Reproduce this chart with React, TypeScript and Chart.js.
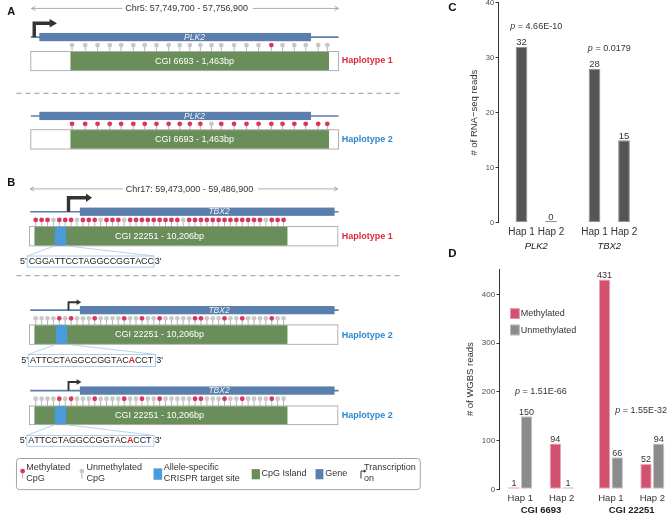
import React, { useEffect, useRef } from "react";
import { Chart, registerables } from "chart.js";

Chart.register(...registerables);

const FONT = '"Liberation Sans", Arial, Helvetica, sans-serif';

// ---------------- Panels A/B: CpG methylation states (M = methylated, U = unmethylated)
const plk2Hap1CpG = "UUUUUUUUUUUUUUUUUMUUUUU".split("");
const plk2Hap2CpG = "MMMMMMMMMMMMUMMMMMMMMMM".split("");
const tbx2Hap1CpG = "MMMUMMMUMMMUMMMUMMMMMMMMMUMMMMMMMMMMMMMUMMM".split("");
const tbx2Hap2CpG = "UUUUMUMUUUMUUUUMUUMUUMUUUUUMMUUUMUUMUUUUMUU".split("");
const hap1Seq = "CGGATTCCTAGGCCGGTACC";
const hap2Seq = "ATTCCTAGGCCGGTACACCT";
const hap2SnpIndex = 16;

// ---------------- Panel C: RNA-seq reads
const rnaHaps = ["Hap 1", "Hap 2"];
const rnaGenes = ["PLK2", "TBX2"];
const rnaReads = [32, 0, 28, 15];
const rnaPValues = ["4.66E-10", "0.0179"];
const rnaTicks = [0, 10, 20, 30, 40];

// ---------------- Panel D: WGBS reads
const wgbsHaps = ["Hap 1", "Hap 2"];
const wgbsRegions = ["CGI 6693", "CGI 22251"];
const wgbsMethylated = [1, 94, 431, 52];
const wgbsUnmethylated = [150, 1, 66, 94];
const wgbsPValues = ["1.51E-66", "1.55E-32"];
const wgbsTicks = [0, 100, 200, 300, 400];

// ---------------- layout (not data)
const A_CPG_X = [69.3, 82.7, 95.3, 107.7, 119.3, 131.7, 143.3, 155.3, 167.7, 179, 189.3, 200, 211.3, 221.3, 234.3, 247, 259.3, 272.3, 283.7, 295.7, 307.3, 320, 329.3];
const B_CPG_X0 = 32.3;
const B_CPG_STEP = 6.01;

const METH = "#d6385f";
const UNMETH = "#c8c8c8";
const GENE = "#5b7fad";
const CGI_GREEN = "#6a8e59";
const CRISPR = "#4b9ad9";
const SEQ_LINE = "#a5c8ea";
const HAP1_RED = "#dc2a40";
const HAP2_BLUE = "#2d87cc";

const TRACKS = [
  { states: plk2Hap1CpG, xs: A_CPG_X, dotY: 41.7, boxTop: 48.3 },
  { states: plk2Hap2CpG, xs: A_CPG_X, dotY: 121.7, boxTop: 127.7 },
  { states: tbx2Hap1CpG, xs: null, dotY: 219.3, boxTop: 226 },
  { states: tbx2Hap2CpG, xs: null, dotY: 319.3, boxTop: 326 },
  { states: tbx2Hap2CpG, xs: null, dotY: 401, boxTop: 408.3 },
];

function cpgPoints(state: string) {
  const pts: any[] = [];
  TRACKS.forEach((t) => {
    t.states.forEach((s, i) => {
      if (s !== state) return;
      const x = t.xs ? t.xs[i] : B_CPG_X0 + i * B_CPG_STEP;
      pts.push({ x, y: t.dotY, base: t.boxTop });
    });
  });
  return pts;
}

const diagramPlugin = {
  id: "diagram",
  beforeDatasetsDraw(chart: any) {
    const ctx = chart.ctx;
    const X = (v: number) => chart.scales.x.getPixelForValue(v);
    const Y = (v: number) => chart.scales.y.getPixelForValue(v);
    ctx.save();
    const font = (size: number, weight = "normal", style = "normal") => `${style} ${weight} ${size}px ${FONT}`;
    const text = (s: string, x: number, y: number, o: any = {}) => {
      ctx.font = font(o.size || 9, o.weight, o.style);
      ctx.fillStyle = o.color || "#333";
      ctx.textAlign = o.align || "left";
      ctx.textBaseline = "middle";
      ctx.fillText(s, X(x), Y(y));
    };
    const rect = (x0: number, y0: number, x1: number, y1: number, fill?: string, stroke?: string, lw = 0.8) => {
      if (fill) { ctx.fillStyle = fill; ctx.fillRect(X(x0), Y(y0), X(x1) - X(x0), Y(y1) - Y(y0)); }
      if (stroke) { ctx.strokeStyle = stroke; ctx.lineWidth = lw; ctx.strokeRect(X(x0), Y(y0), X(x1) - X(x0), Y(y1) - Y(y0)); }
    };
    const line = (pts: number[][], color: string, lw: number, dash: number[] = []) => {
      ctx.beginPath();
      ctx.setLineDash(dash);
      pts.forEach((p, i) => (i ? ctx.lineTo(X(p[0]), Y(p[1])) : ctx.moveTo(X(p[0]), Y(p[1]))));
      ctx.strokeStyle = color; ctx.lineWidth = lw; ctx.stroke();
      ctx.setLineDash([]);
    };
    const chrom = (label: string, cx: number, y: number, x0: number, x1: number) => {
      ctx.font = font(9);
      const w = ctx.measureText(label).width;
      line([[x0, y], [cx - w / 2 - 4, y]], "#999", 0.8);
      line([[cx + w / 2 + 6, y], [x1, y]], "#999", 0.8);
      line([[x0 + 4, y - 2.2], [x0, y], [x0 + 4, y + 2.2]], "#999", 0.8);
      line([[x1 - 4, y - 2.2], [x1, y], [x1 - 4, y + 2.2]], "#999", 0.8);
      text(label, cx, y + 0.5, { align: "center", color: "#333" });
    };
    const gene = (y: number, lx0: number, lx1: number, bx0: number, bx1: number, name: string, cx: number) => {
      line([[lx0, y], [lx1, y]], GENE, 1.6);
      rect(bx0, y - 4.2, bx1, y + 4.2, GENE);
      text(name, cx, y + 0.3, { align: "center", color: "#eef2f8", style: "italic", size: 8.5 });
    };
    const tss = (x: number, base: number, top: number, end: number, tip: number, lw: number, head: number) => {
      ctx.lineJoin = "miter";
      line([[x, base], [x, top], [end, top]], "#333", lw);
      ctx.beginPath();
      ctx.moveTo(X(end - 0.5), Y(top - head));
      ctx.lineTo(X(tip), Y(top));
      ctx.lineTo(X(end - 0.5), Y(top + head));
      ctx.closePath();
      ctx.fillStyle = "#333"; ctx.fill();
    };
    const cgi = (y0: number, y1: number, ox0: number, ox1: number, gx0: number, gx1: number, label: string, cx: number, crispr?: number[]) => {
      rect(ox0, y0, ox1, y1, "#fff", "#a8a8a8", 0.9);
      rect(gx0, y0 + 0.4, gx1, y1 - 0.4, CGI_GREEN);
      if (crispr) rect(crispr[0], y0 + 0.4, crispr[1], y1 - 0.4, CRISPR);
      text(label, cx, (y0 + y1) / 2 + 0.3, { align: "center", color: "#fff", size: 9 });
    };
    const seqBox = (cr: number[], crBottom: number, bx0: number, bx1: number, by0: number, by1: number, seq: string, red: number) => {
      line([[cr[0], crBottom], [bx0, by0]], SEQ_LINE, 0.8);
      line([[cr[1], crBottom], [bx1, by0]], SEQ_LINE, 0.8);
      rect(bx0, by0, bx1, by1, undefined, SEQ_LINE, 0.9);
      const cy = (by0 + by1) / 2;
      text("5'", bx0 - 0.5, cy, { align: "right", color: "#222" });
      text("3'", bx1 + 0.8, cy, { color: "#222" });
      let x = bx0 + 1.4;
      seq.split("").forEach((ch, i) => {
        const isRed = i === red;
        ctx.font = font(9, isRed ? "bold" : "normal");
        ctx.fillStyle = isRed ? "#e8202a" : "#222";
        ctx.textAlign = "left";
        ctx.textBaseline = "middle";
        ctx.fillText(ch, X(x), Y(cy));
        x += ctx.measureText(ch).width;
      });
    };

    // panel letters
    text("A", 3.3, 8, { weight: "bold", size: 11, color: "#111" });
    text("B", 3.3, 182, { weight: "bold", size: 11, color: "#111" });

    // ---- Panel A
    chrom("Chr5: 57,749,700 - 57,756,900", 186, 4.5, 28, 340.7);
    gene(33.6, 27.3, 340.7, 36, 312.7, "PLK2", 194);
    tss(30.8, 33.6, 19.5, 47, 54, 3.4, 4.3);
    cgi(48.3, 67.7, 27.3, 340.7, 67.7, 331, "CGI 6693 - 1,463bp", 194);
    text("Haplotype 1", 344, 57.5, { weight: "bold", color: HAP1_RED });
    line([[12.7, 90.7], [407, 90.7]], "#8a8a8a", 0.9, [5, 4]);
    gene(113.7, 27.3, 340.7, 36, 312.7, "PLK2", 194);
    cgi(127.7, 147.3, 27.3, 340.7, 67.7, 331, "CGI 6693 - 1,463bp", 194);
    text("Haplotype 2", 344, 137.7, { weight: "bold", color: HAP2_BLUE });

    // ---- Panel B
    chrom("Chr17: 59,473,000 - 59,486,900", 189, 187.8, 26.7, 340);
    gene(211, 26.7, 340.7, 77.3, 336.7, "TBX2", 219);
    tss(65.7, 211, 196.8, 84, 89.7, 3.4, 4.3);
    cgi(226, 245.7, 26, 340, 31, 288.7, "CGI 22251 - 10,206bp", 158.3, [51.7, 63.3]);
    text("Haplotype 1", 344, 236, { weight: "bold", color: HAP1_RED });
    seqBox([51.7, 63.3], 245.7, 23.7, 152.7, 256, 267.3, hap1Seq, -1);
    line([[12.7, 276], [407, 276]], "#8a8a8a", 0.9, [5, 4]);

    gene(311, 26.7, 340.7, 77.3, 336.7, "TBX2", 219);
    tss(65.7, 311, 303, 74.5, 78.7, 1.9, 2.8);
    cgi(326, 345.7, 26, 340, 31, 288.7, "CGI 22251 - 10,206bp", 158.3, [52.7, 64.3]);
    text("Haplotype 2", 344, 336.5, { weight: "bold", color: HAP2_BLUE });
    seqBox([52.7, 64.3], 345.7, 25, 154.3, 356, 368.3, hap2Seq, hap2SnpIndex);

    gene(392.7, 26.7, 340.7, 77.3, 336.7, "TBX2", 219);
    tss(65.7, 392.7, 384, 74.5, 79, 1.9, 2.8);
    cgi(408.3, 427.3, 26, 340, 31, 288.7, "CGI 22251 - 10,206bp", 158.3, [51.7, 63.3]);
    text("Haplotype 2", 344, 418.3, { weight: "bold", color: HAP2_BLUE });
    seqBox([51.7, 63.3], 427.3, 23.3, 152.7, 438.3, 449.3, hap2Seq, hap2SnpIndex);

    // ---- legend
    ctx.beginPath();
    ctx.roundRect(X(12.7), Y(461.7), X(424) - X(12.7), Y(493.3) - Y(461.7), 3);
    ctx.strokeStyle = "#9a9a9a"; ctx.lineWidth = 0.9; ctx.stroke();
    const lolli = (x: number, color: string) => {
      line([[x, 474.5], [x, 482]], "#a0a0a0", 0.8);
      ctx.beginPath(); ctx.arc(X(x), Y(474.5), 2.4, 0, Math.PI * 2); ctx.fillStyle = color; ctx.fill();
    };
    lolli(19, METH);
    text("Methylated", 22.7, 470.8);
    text("CpG", 22.7, 482.3);
    lolli(79.3, UNMETH);
    text("Unmethylated", 84, 470.8);
    text("CpG", 84, 482.3);
    rect(152.3, 471.7, 161, 483.3, CRISPR);
    text("Allele-specific", 162.7, 470.8);
    text("CRISPR target site", 162.7, 482.3);
    rect(252.3, 472.5, 260.7, 482.8, CGI_GREEN);
    text("CpG Island", 262.3, 476.8);
    rect(317.3, 472.5, 325.3, 482.8, GENE);
    text("Gene", 327.3, 476.8);
    line([[363.6, 482], [363.6, 474.5], [367, 474.5]], "#333", 1);
    ctx.beginPath();
    ctx.moveTo(X(366.5), Y(472.8)); ctx.lineTo(X(369.3), Y(474.5)); ctx.lineTo(X(366.5), Y(476.2)); ctx.closePath();
    ctx.fillStyle = "#333"; ctx.fill();
    text("Transcription", 366.7, 470.8);
    text("on", 366.7, 482.3);

    // ---- CpG stems
    chart.data.datasets.forEach((ds: any) => {
      ds.data.forEach((p: any) => line([[p.x, p.y], [p.x, p.base]], "#a3a3a3", 0.8));
    });
    ctx.restore();
  },
};

// ---------------- bar panel annotations
function panelPlugin(o: any) {
  return {
    id: "panel" + o.letter,
    afterDatasetsDraw(chart: any) {
      const ctx = chart.ctx;
      const xs = chart.scales.x;
      const ys = chart.scales.y;
      ctx.save();
      // value labels
      chart.data.datasets.forEach((ds: any, di: number) => {
        const meta = chart.getDatasetMeta(di);
        meta.data.forEach((el: any, i: number) => {
          ctx.font = `${o.valueSize}px ${FONT}`;
          ctx.fillStyle = "#333";
          ctx.textAlign = "center";
          ctx.textBaseline = "alphabetic";
          ctx.fillText(String(o.valueLabels[di][i]), el.x, el.y - 1.6);
        });
      });
      // p-values
      o.pValues.forEach((pv: string, f: number) => {
        const cx = xs.getPixelForValue(o.pX[f]);
        const cy = ys.getPixelForValue(o.pY[f]);
        ctx.textBaseline = "middle";
        ctx.textAlign = "left";
        ctx.font = `italic 9px ${FONT}`;
        const w1 = ctx.measureText("p").width;
        ctx.font = `9px ${FONT}`;
        const rest = " = " + pv;
        const w2 = ctx.measureText(rest).width;
        const x0 = cx - (w1 + w2) / 2;
        ctx.fillStyle = "#333";
        ctx.font = `italic 9px ${FONT}`;
        ctx.fillText("p", x0, cy);
        ctx.font = `9px ${FONT}`;
        ctx.fillText(rest, x0 + w1, cy);
      });
      // group labels
      o.groups.forEach((g: string, f: number) => {
        const cx = xs.getPixelForValue(f * o.stride + 1.5);
        ctx.font = o.groupFont;
        ctx.fillStyle = "#222";
        ctx.textAlign = "center";
        ctx.textBaseline = "middle";
        ctx.fillText(g, cx, chart.chartArea.bottom + o.groupDy);
      });
      // panel letter
      ctx.font = `bold 11.5px ${FONT}`;
      ctx.fillStyle = "#111";
      ctx.textAlign = "left";
      ctx.textBaseline = "middle";
      ctx.fillText(o.letter, o.letterX, o.letterY);
      // legend
      if (o.legend) {
        o.legend.forEach((it: any, k: number) => {
          const lx = chart.chartArea.left + 10.5;
          const ly = ys.getPixelForValue(o.legendY[k]);
          ctx.fillStyle = it.color;
          ctx.fillRect(lx, ly - 5.2, 9.6, 10.6);
          ctx.strokeStyle = it.border;
          ctx.lineWidth = 0.8;
          ctx.strokeRect(lx + 0.4, ly - 4.8, 8.8, 9.8);
          ctx.font = `9px ${FONT}`;
          ctx.fillStyle = "#333";
          ctx.textAlign = "left";
          ctx.fillText(it.label, lx + 10.8, ly + 0.3);
        });
      }
      ctx.restore();
    },
  };
}

// x positions (facet index * stride + category index)
const C_STRIDE = 2.475;
const D_STRIDE = 2.19;
const cX = rnaReads.map((_, i) => Math.floor(i / 2) * C_STRIDE + (i % 2) + 1);
const dX = wgbsMethylated.map((_, i) => Math.floor(i / 2) * D_STRIDE + (i % 2) + 1);

function yAxis(max: number, ticks: number[], width: number, title: string, titlePad: number, tickSize: number) {
  return {
    min: 0,
    max,
    afterBuildTicks: (s: any) => { s.ticks = ticks.map((v) => ({ value: v })); },
    afterFit: (s: any) => { s.width = width; },
    grid: { drawOnChartArea: false, drawTicks: true, tickLength: 3, color: "#333", lineWidth: 1 },
    border: { display: true, color: "#333", width: 1 },
    ticks: { padding: 1.3, color: "#4d4d4d", font: { family: FONT, size: tickSize } },
    title: { display: true, text: title, color: "#333", font: { family: FONT, size: 9.5 }, padding: { top: titlePad, bottom: 0 } },
  };
}

function xAxis(min: number, max: number, xs: number[], labels: string[], height: number, pad: number, size: number) {
  return {
    type: "linear",
    min,
    max,
    offset: false,
    afterBuildTicks: (s: any) => { s.ticks = xs.map((v) => ({ value: v })); },
    afterFit: (s: any) => { s.height = height; },
    grid: { display: false, drawTicks: false },
    border: { display: false },
    ticks: { autoSkip: false, maxRotation: 0, minRotation: 0, padding: pad, color: "#333", font: { family: FONT, size }, callback: (_v: any, i: number) => labels[i % 2] },
  };
}

export default function App() {
  const diagRef = useRef<HTMLCanvasElement>(null);
  const cRef = useRef<HTMLCanvasElement>(null);
  const dRef = useRef<HTMLCanvasElement>(null);

  useEffect(() => {
    const charts: any[] = [];
    charts.push(
      new Chart(diagRef.current as any, {
        type: "scatter",
        data: {
          datasets: [
            { label: "Methylated CpG", data: cpgPoints("M"), pointRadius: 2.4, pointBackgroundColor: METH, pointBorderColor: METH, pointBorderWidth: 0 },
            { label: "Unmethylated CpG", data: cpgPoints("U"), pointRadius: 2.4, pointBackgroundColor: UNMETH, pointBorderColor: UNMETH, pointBorderWidth: 0 },
          ],
        },
        options: {
          responsive: false,
          animation: false,
          events: [],
          layout: { padding: 0 },
          scales: {
            x: { type: "linear", display: false, min: 0, max: 440 },
            y: { type: "linear", display: false, min: 0, max: 514, reverse: true },
          },
          plugins: { legend: { display: false }, tooltip: { enabled: false } },
        },
        plugins: [diagramPlugin],
      } as any)
    );

    charts.push(
      new Chart(cRef.current as any, {
        type: "bar",
        data: {
          datasets: [
            {
              label: "RNA-seq reads",
              data: rnaReads.map((v, i) => ({ x: cX[i], y: v })),
              backgroundColor: "#555555",
              borderColor: "#8e8e8e",
              borderWidth: 1,
              borderSkipped: false,
              categoryPercentage: 0.8,
              barPercentage: 0.496,
              minBarLength: 1.6,
            },
          ],
        },
        options: {
          responsive: false,
          animation: false,
          events: [],
          layout: { padding: { top: 12.7, right: 0, bottom: 0, left: 0 } },
          scales: {
            x: xAxis(0.2203, 5.966, cX, rnaHaps, 33.3, 4, 10),
            y: yAxis(40, rnaTicks, 58.5, "# of RNA\u2212seq reads", 29, 7.5),
          },
          plugins: { legend: { display: false }, tooltip: { enabled: false } },
        },
        plugins: [
          panelPlugin({
            letter: "C", letterX: 8.3, letterY: 17.4,
            valueLabels: [rnaReads], valueSize: 9.5,
            pValues: rnaPValues, pX: [1.5, 1.5 + C_STRIDE], pY: [35.6, 31.6],
            groups: rnaGenes, groupFont: `italic 9.5px ${FONT}`, groupDy: 24, stride: C_STRIDE,
          }),
        ],
      } as any)
    );

    charts.push(
      new Chart(dRef.current as any, {
        type: "bar",
        data: {
          datasets: [
            {
              label: "Methylated",
              data: wgbsMethylated.map((v, i) => ({ x: dX[i], y: v })),
              backgroundColor: "#d1516e",
              borderColor: "#eba5b5",
              borderWidth: 1,
              borderSkipped: false,
              categoryPercentage: 0.61,
              barPercentage: 0.9,
              minBarLength: 2,
            },
            {
              label: "Unmethylated",
              data: wgbsUnmethylated.map((v, i) => ({ x: dX[i], y: v })),
              backgroundColor: "#8b8b8b",
              borderColor: "#c4c4c4",
              borderWidth: 1,
              borderSkipped: false,
              categoryPercentage: 0.61,
              barPercentage: 0.9,
              minBarLength: 2,
            },
          ],
        },
        options: {
          responsive: false,
          animation: false,
          events: [],
          layout: { padding: { top: 24, right: 0, bottom: 0, left: 0 } },
          scales: {
            x: xAxis(0.4982, 4.5245, dX, wgbsHaps, 24.7, 3, 9.5),
            y: yAxis(452.55, wgbsTicks, 59.5, "# of WGBS reads", 24.3, 8),
          },
          plugins: { legend: { display: false }, tooltip: { enabled: false } },
        },
        plugins: [
          panelPlugin({
            letter: "D", letterX: 8.3, letterY: 8.8,
            valueLabels: [wgbsMethylated, wgbsUnmethylated], valueSize: 9,
            pValues: wgbsPValues, pX: [1.5, 1.5 + D_STRIDE + 0.23], pY: [200, 161],
            groups: wgbsRegions, groupFont: `bold 9.5px ${FONT}`, groupDy: 20.7, stride: D_STRIDE,
            legend: [
              { label: "Methylated", color: "#d1516e", border: "#eba5b5" },
              { label: "Unmethylated", color: "#8b8b8b", border: "#c4c4c4" },
            ],
            legendY: [361, 327.5],
          }),
        ],
      } as any)
    );
    return () => charts.forEach((c) => c.destroy());
  }, []);

  return (
    <div style={{ position: "fixed", left: 0, top: 0, width: 668, height: 514, overflow: "hidden", background: "#fff" }}>
      <canvas ref={diagRef} width={440} height={514} style={{ position: "absolute", left: 0, top: 0 }} />
      <canvas ref={cRef} width={228} height={266} style={{ position: "absolute", left: 440, top: -10 }} />
      <canvas ref={dRef} width={228} height={269} style={{ position: "absolute", left: 440, top: 245 }} />
    </div>
  );
}
